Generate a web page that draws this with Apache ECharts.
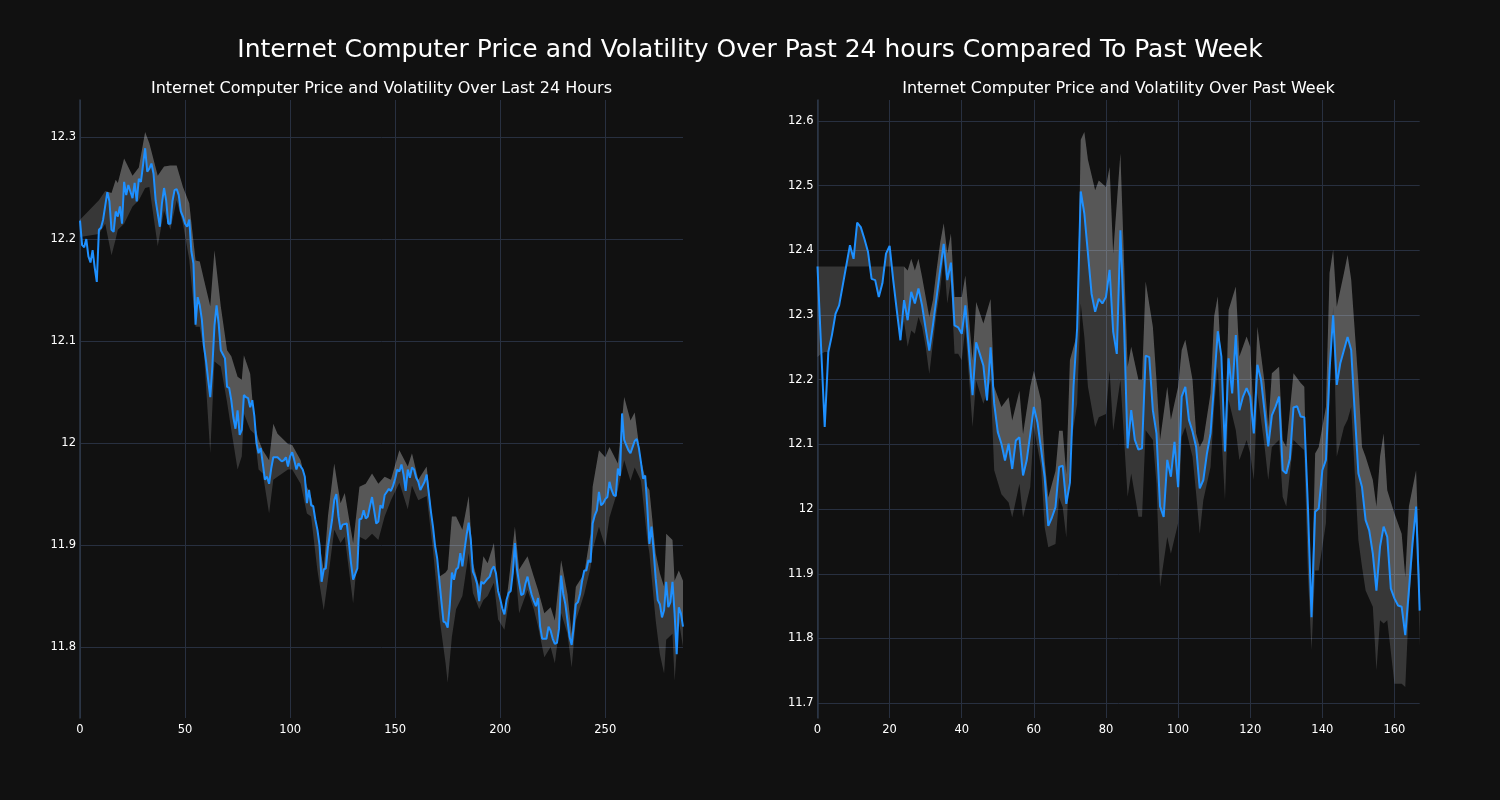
<!DOCTYPE html>
<html>
<head>
<meta charset="utf-8">
<script src="https://cdn.jsdelivr.net/npm/echarts@6/dist/echarts.min.js"></script>
<style>
html,body{margin:0;padding:0;background:#111111;}
#chart{width:1500px;height:800px;}
</style>
</head>
<body>
<div id="chart"></div>
<script>
// ---------- texts ----------
const mainTitle = 'Internet Computer Price and Volatility Over Past 24 hours Compared To Past Week';
const dayTitle = 'Internet Computer Price and Volatility Over Last 24 Hours';
const weekTitle = 'Internet Computer Price and Volatility Over Past Week';

// ---------- last 24 hours (5-minute steps) ----------
const dayX = [
0,1,2,3,4,5,6,7,8,9,
10,11,13,14,15,16,17,18,19,20,
21,22,23,25,26,27,28,29,31,32,
33,34,35,36,38,39,40,41,42,43,
44,45,46,47,48,49,50,51,52,53,
54,55,56,57,58,59,60,61,62,63,
64,65,66,67,68,69,70,71,72,73,
74,75,76,77,78,79,80,81,82,83,
84,85,86,87,88,89,90,91,92,94,
96,97,98,99,100,101,102,103,104,106,
107,108,109,110,111,112,113,114,115,116,
117,118,120,121,122,123,124,125,127,128,
129,130,132,133,134,135,136,137,138,139,
141,142,143,144,145,146,147,148,149,150,
151,152,153,154,155,156,157,158,159,160,
161,162,163,164,165,166,167,168,169,170,
171,172,173,174,175,176,177,178,179,180,
181,182,183,184,185,186,187,188,189,190,
191,192,194,195,196,197,198,199,200,201,
202,203,204,205,206,207,208,209,210,211,
212,213,214,215,216,217,218,219,220,222,
223,224,225,226,227,228,229,230,231,232,
233,234,235,236,237,238,239,240,241,242,
243,244,245,246,247,248,249,250,251,252,
253,254,255,256,257,258,259,260,261,262,
263,264,265,266,267,268,269,270,271,272,
273,274,275,276,277,278,279,280,281,282,
283,284,285,286,287
];
const dayPrice = [
12.218,12.194,12.192,12.2,12.183,12.177,12.189,12.172,12.158,12.209,
12.211,12.219,12.246,12.237,12.209,12.207,12.227,12.222,12.232,12.215,
12.256,12.243,12.253,12.24,12.255,12.237,12.259,12.256,12.289,12.266,
12.269,12.274,12.264,12.238,12.212,12.235,12.25,12.238,12.215,12.215,
12.237,12.248,12.249,12.243,12.227,12.222,12.215,12.212,12.219,12.188,
12.176,12.116,12.143,12.135,12.121,12.095,12.08,12.062,12.045,12.075,
12.115,12.135,12.117,12.091,12.087,12.083,12.055,12.054,12.042,12.025,
12.014,12.032,12.008,12.013,12.047,12.045,12.044,12.035,12.042,12.026,
12.0,11.99,11.995,11.98,11.964,11.967,11.96,11.975,11.986,11.986,
11.982,11.983,11.986,11.977,11.987,11.991,11.983,11.974,11.98,11.974,
11.967,11.941,11.954,11.939,11.938,11.925,11.915,11.9,11.864,11.876,
11.877,11.898,11.925,11.944,11.95,11.928,11.915,11.92,11.921,11.902,
11.882,11.866,11.877,11.925,11.926,11.934,11.926,11.928,11.938,11.947,
11.921,11.923,11.939,11.936,11.949,11.952,11.955,11.953,11.958,11.965,
11.974,11.972,11.979,11.969,11.953,11.974,11.966,11.976,11.974,11.966,
11.962,11.954,11.958,11.962,11.969,11.951,11.933,11.918,11.899,11.887,
11.866,11.845,11.825,11.824,11.819,11.841,11.873,11.866,11.876,11.878,
11.892,11.879,11.895,11.91,11.922,11.905,11.874,11.869,11.862,11.845,
11.864,11.862,11.867,11.869,11.876,11.879,11.872,11.855,11.847,11.838,
11.832,11.846,11.853,11.855,11.873,11.902,11.876,11.863,11.851,11.852,
11.862,11.869,11.859,11.851,11.845,11.84,11.848,11.82,11.808,11.808,
11.82,11.816,11.808,11.803,11.804,11.818,11.87,11.852,11.842,11.826,
11.81,11.802,11.82,11.842,11.844,11.852,11.865,11.875,11.875,11.885,
11.883,11.921,11.929,11.934,11.952,11.939,11.941,11.945,11.947,11.962,
11.954,11.949,11.948,11.975,11.968,12.029,12.003,11.998,11.993,11.99,
11.996,12.002,12.004,11.995,11.981,11.965,11.968,11.937,11.901,11.918,
11.895,11.867,11.846,11.842,11.829,11.836,11.864,11.839,11.844,11.864,
11.833,11.793,11.839,11.833,11.82
];
const dayBandX = [
0,9,12,15,17,18,21,25,28,31,
33,37,40,43,46,49,52,55,57,59,
62,64,67,70,72,75,77,78,81,83,
85,87,90,92,94,99,101,105,108,110,
113,116,118,121,124,126,130,133,136,139,
142,145,148,152,156,158,161,165,168,171,
174,175,177,179,182,185,187,190,192,194,
197,199,202,204,207,209,213,216,218,221,
224,226,229,232,234,236,240,243,244,247,
250,252,256,259,262,264,267,270,271,274,
276,278,279,282,283,285,287
];
const dayBandUpper = [
12.219,12.238,12.247,12.245,12.258,12.255,12.279,12.262,12.27,12.305,
12.294,12.262,12.271,12.272,12.272,12.251,12.235,12.179,12.178,12.16,
12.134,12.189,12.134,12.091,12.085,12.065,12.062,12.086,12.068,12.019,
12.003,11.993,11.983,12.019,12.009,11.999,11.998,11.983,11.957,11.947,
11.915,11.875,11.928,11.98,11.941,11.951,11.902,11.957,11.96,11.97,
11.96,11.967,11.964,11.993,11.977,11.99,11.964,11.977,11.918,11.869,
11.873,11.876,11.928,11.928,11.915,11.948,11.882,11.859,11.889,11.882,
11.902,11.853,11.83,11.863,11.918,11.876,11.889,11.869,11.856,11.833,
11.839,11.826,11.885,11.852,11.813,11.859,11.872,11.911,11.957,11.993,
11.986,11.996,11.98,12.045,12.022,12.03,11.983,11.957,11.954,11.892,
11.872,11.859,11.911,11.905,11.865,11.875,11.865
];
const dayBandLower = [
12.202,12.205,12.215,12.184,12.2,12.209,12.215,12.232,12.238,12.25,
12.251,12.193,12.228,12.209,12.238,12.215,12.18,12.114,12.114,12.088,
11.99,12.08,12.075,12.04,12.013,11.974,11.987,12.029,12.013,12.009,
11.974,11.97,11.931,11.964,11.967,11.974,11.974,11.96,11.931,11.928,
11.875,11.836,11.866,11.915,11.902,11.908,11.843,11.908,11.905,11.911,
11.905,11.928,11.944,11.961,11.935,11.958,11.944,11.948,11.895,11.83,
11.784,11.765,11.81,11.837,11.85,11.892,11.853,11.837,11.846,11.85,
11.863,11.827,11.817,11.843,11.882,11.833,11.856,11.837,11.82,11.79,
11.8,11.784,11.833,11.813,11.78,11.826,11.852,11.878,11.895,11.918,
11.898,11.927,11.954,11.983,11.963,11.976,11.963,11.905,11.892,11.826,
11.793,11.774,11.807,11.813,11.767,11.826,11.8
];
const dayInnerStart = 12;

// ---------- past week (hourly steps) ----------
const weekPrice = [
12.375,12.25,12.127,12.243,12.269,12.302,12.315,12.346,12.377,12.408,
12.387,12.443,12.436,12.418,12.398,12.356,12.354,12.328,12.349,12.395,
12.407,12.354,12.307,12.261,12.323,12.292,12.336,12.318,12.341,12.315,
12.279,12.245,12.284,12.326,12.369,12.41,12.354,12.381,12.284,12.281,
12.271,12.315,12.245,12.176,12.258,12.24,12.222,12.168,12.25,12.163,
12.119,12.101,12.075,12.101,12.062,12.106,12.111,12.052,12.075,12.116,
12.158,12.134,12.093,12.049,11.974,11.987,12.003,12.065,12.067,12.008,
12.041,12.19,12.28,12.491,12.457,12.395,12.333,12.305,12.325,12.318,
12.328,12.37,12.274,12.24,12.431,12.287,12.094,12.153,12.107,12.092,
12.094,12.237,12.235,12.153,12.117,12.004,11.988,12.076,12.05,12.104,
12.034,12.174,12.189,12.138,12.12,12.096,12.032,12.045,12.086,12.117,
12.195,12.275,12.236,12.089,12.233,12.179,12.269,12.153,12.174,12.187,
12.174,12.117,12.223,12.2,12.15,12.097,12.145,12.158,12.174,12.06,
12.055,12.078,12.157,12.159,12.143,12.142,12.004,11.833,11.996,12.001,
12.06,12.076,12.215,12.3,12.192,12.226,12.246,12.266,12.246,12.148,
12.055,12.034,11.983,11.967,11.931,11.874,11.942,11.973,11.957,11.877,
11.862,11.851,11.849,11.805,11.874,11.947,12.004,11.843
];
const weekX = weekPrice.map((v, k) => k);
const weekBandX = [
0,1,2,3,4,5,6,7,8,9,
10,11,12,13,14,15,16,17,18,19,
20,21,22,23,24,25,26,27,28,29,
30,31,32,33,34,35,36,37,38,39,
40,41,43,44,46,48,49,51,53,54,
56,57,59,60,62,63,64,66,67,68,
69,70,72,73,74,75,77,78,80,81,
82,84,86,87,89,90,91,93,94,95,
97,98,100,101,102,104,105,106,107,109,
110,111,113,114,116,117,119,120,121,122,
124,125,126,128,129,130,132,134,135,136,
137,138,139,141,142,143,144,146,147,148,
150,151,152,154,155,156,157,158,160,162,
163,164,166,167
];
const weekBandUpper = [
12.375,12.375,12.375,12.375,12.375,12.375,12.375,12.375,12.375,12.375,
12.375,12.375,12.375,12.375,12.375,12.375,12.375,12.375,12.375,12.375,
12.375,12.375,12.375,12.375,12.375,12.369,12.387,12.369,12.387,12.359,
12.328,12.297,12.323,12.369,12.411,12.442,12.395,12.426,12.328,12.328,
12.328,12.361,12.23,12.32,12.287,12.325,12.189,12.158,12.173,12.137,
12.183,12.116,12.189,12.214,12.168,12.075,12.018,12.059,12.121,12.121,
12.054,12.23,12.271,12.571,12.583,12.54,12.493,12.508,12.498,12.529,
12.395,12.55,12.22,12.251,12.2,12.2,12.352,12.282,12.2,12.107,
12.189,12.138,12.189,12.246,12.262,12.2,12.117,12.096,12.107,12.179,
12.298,12.329,12.107,12.308,12.344,12.236,12.267,12.251,12.138,12.282,
12.195,12.127,12.21,12.22,12.107,12.096,12.21,12.195,12.189,11.952,
11.849,12.086,12.096,12.158,12.365,12.401,12.313,12.365,12.393,12.355,
12.195,12.096,12.081,12.045,12.004,12.081,12.117,12.029,11.993,11.962,
11.895,12.004,12.06,11.89
];
const weekBandLower = [
12.235,12.24,12.243,12.243,12.269,12.302,12.315,12.346,12.377,12.408,
12.387,12.443,12.436,12.418,12.398,12.356,12.354,12.328,12.349,12.395,
12.407,12.354,12.307,12.261,12.29,12.251,12.276,12.271,12.297,12.282,
12.251,12.209,12.256,12.302,12.338,12.39,12.318,12.354,12.24,12.24,
12.23,12.281,12.127,12.199,12.163,12.199,12.06,12.023,12.01,11.987,
12.039,11.987,12.034,12.127,12.065,11.972,11.941,11.946,12.018,12.003,
11.956,12.09,12.163,12.318,12.266,12.189,12.127,12.142,12.147,12.214,
12.121,12.2,12.019,12.055,11.988,11.988,12.122,12.107,12.04,11.88,
11.957,11.931,11.978,12.112,12.127,12.081,12.024,11.962,12.014,12.065,
12.158,12.22,12.014,12.169,12.122,12.076,12.107,12.086,12.045,12.179,
12.096,12.045,12.096,12.107,12.019,12.004,12.107,12.096,12.091,11.9,
11.782,11.905,11.905,11.978,12.174,12.313,12.081,12.127,12.138,12.158,
11.952,11.911,11.874,11.849,11.751,11.828,11.823,11.828,11.73,11.73,
11.725,11.849,12.004,11.787
];
const weekInnerStart = 24;

// ---------- axis settings ----------
const dayAxis = { min: 0, max: 287, interval: 50, yMin: 11.7304, yMax: 12.3363, split: 6 };
const weekAxis = { min: 0, max: 167, interval: 20, yMin: 11.677, yMax: 12.6325, split: 10 };

// ---------- styling ----------
const FONT = '"DejaVu Sans", "Liberation Sans", sans-serif';
const BG = '#111111';
const GRID_COLOR = '#283040';
const SPINE_COLOR = '#2d3747';
const TEXT = '#ffffff';
const LINE = '#1e90ff';
const BAND = 'rgba(255,255,255,0.16)';

function pick(xs, ys, from) {
  const ox = [], oy = [];
  for (let k = 0; k < xs.length; k++) if (xs[k] >= from) { ox.push(xs[k]); oy.push(ys[k]); }
  return [ox, oy];
}

function polygonSeries(idx, topX, topY, botX, botY, fill, z) {
  return {
    type: 'custom', xAxisIndex: idx, yAxisIndex: idx, z: z, silent: true, clip: true,
    data: [[topX[0], topY[0]]],
    renderItem: function (params, api) {
      const pts = [];
      for (let k = 0; k < topX.length; k++) pts.push(api.coord([topX[k], topY[k]]));
      for (let k = botX.length - 1; k >= 0; k--) pts.push(api.coord([botX[k], botY[k]]));
      return { type: 'polygon', shape: { points: pts }, style: { fill: fill } };
    }
  };
}

function lineSeries(idx, xs, ys) {
  return {
    type: 'line', xAxisIndex: idx, yAxisIndex: idx, z: 5, silent: true,
    data: xs.map((x, k) => [x, ys[k]]),
    showSymbol: false, symbol: 'none', smooth: false, animation: false,
    lineStyle: { color: LINE, width: 2 }
  };
}

function xAxisCfg(idx, a) {
  return {
    type: 'value', gridIndex: idx, min: a.min, max: a.max, interval: a.interval,
    axisLine: { show: false }, axisTick: { show: false },
    axisLabel: { color: TEXT, fontFamily: FONT, fontSize: 11.5, margin: 6, showMaxLabel: a.max % a.interval === 0 },
    splitLine: { show: true, showMinLine: true, showMaxLine: false, lineStyle: { color: GRID_COLOR, width: 1 } }
  };
}

function yAxisCfg(idx, a) {
  return {
    type: 'value', gridIndex: idx, min: a.yMin, max: a.yMax, splitNumber: a.split, scale: true,
    axisLine: { show: true, onZero: false, lineStyle: { color: SPINE_COLOR, width: 1.5 } },
    axisTick: { show: false },
    axisLabel: {
      color: TEXT, fontFamily: FONT, fontSize: 11.5, margin: 4, showMinLabel: false, showMaxLabel: false,
      formatter: function (v) { return String(Math.round(v * 10) / 10); }
    },
    splitLine: { show: true, showMinLine: false, showMaxLine: false, lineStyle: { color: GRID_COLOR, width: 1 } }
  };
}

const dayInner = pick(dayBandX, dayBandUpper, dayInnerStart);
const dayInnerPrice = pick(dayX, dayPrice, dayInnerStart);
const weekInner = pick(weekBandX, weekBandUpper, weekInnerStart);
const weekInnerPrice = pick(weekX, weekPrice, weekInnerStart);

const chart = echarts.init(document.getElementById('chart'), null, { renderer: 'canvas', width: 1500, height: 800 });
chart.setOption({
  backgroundColor: BG,
  animation: false,
  textStyle: { fontFamily: FONT },
  grid: [
    { left: 80, top: 100, width: 603, height: 618, containLabel: false },
    { left: 817.5, top: 100, width: 602.2, height: 618, containLabel: false }
  ],
  xAxis: [xAxisCfg(0, dayAxis), xAxisCfg(1, weekAxis)],
  yAxis: [yAxisCfg(0, dayAxis), yAxisCfg(1, weekAxis)],
  graphic: [
    { type: 'text', x: 750, y: 50, silent: true,
      style: { text: mainTitle, fill: TEXT, font: '25px ' + FONT, textAlign: 'center', textVerticalAlign: 'middle', align: 'center', verticalAlign: 'middle' } },
    { type: 'text', x: 381.5, y: 89, silent: true,
      style: { text: dayTitle, fill: TEXT, font: '16px ' + FONT, textAlign: 'center', textVerticalAlign: 'middle', align: 'center', verticalAlign: 'middle' } },
    { type: 'text', x: 1118.5, y: 89, silent: true,
      style: { text: weekTitle, fill: TEXT, font: '16px ' + FONT, textAlign: 'center', textVerticalAlign: 'middle', align: 'center', verticalAlign: 'middle' } }
  ],
  series: [
    polygonSeries(0, dayBandX, dayBandUpper, dayBandX, dayBandLower, BAND, 1),
    polygonSeries(0, dayInner[0], dayInner[1], dayInnerPrice[0], dayInnerPrice[1], BAND, 2),
    lineSeries(0, dayX, dayPrice),
    polygonSeries(1, weekBandX, weekBandUpper, weekBandX, weekBandLower, BAND, 1),
    polygonSeries(1, weekInner[0], weekInner[1], weekInnerPrice[0], weekInnerPrice[1], BAND, 2),
    lineSeries(1, weekX, weekPrice)
  ]
});
</script>
</body>
</html>
